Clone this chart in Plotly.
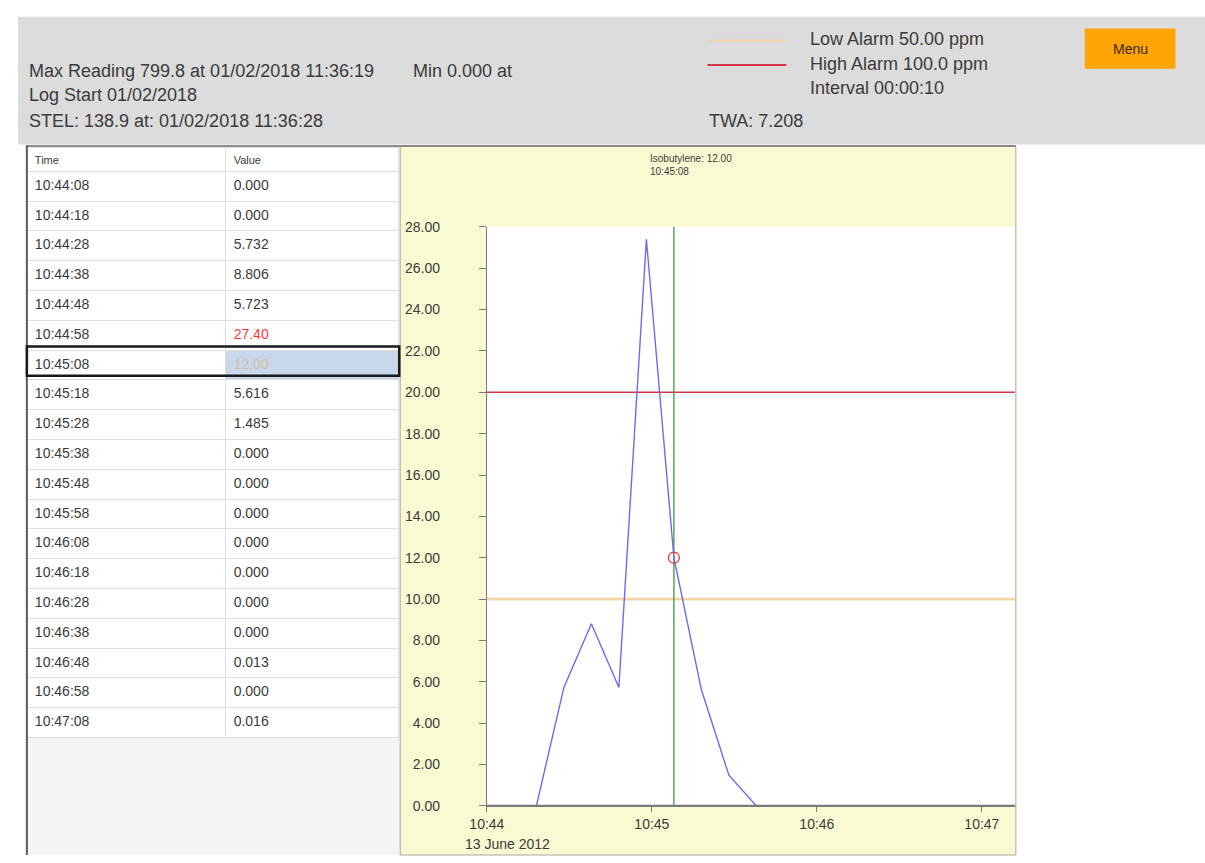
import plotly.graph_objects as go

W, H = 1205, 863

# ---------------- data ----------------
log_date = "2012-06-13"
date_label = "13 June 2012"
times = ["10:44:08", "10:44:18", "10:44:28", "10:44:38", "10:44:48", "10:44:58",
         "10:45:08", "10:45:18", "10:45:28", "10:45:38", "10:45:48", "10:45:58",
         "10:46:08", "10:46:18", "10:46:28", "10:46:38", "10:46:48", "10:46:58",
         "10:47:08"]
values = [0.000, 0.000, 5.732, 8.806, 5.723, 27.40, 12.00, 5.616, 1.485, 0.000,
          0.000, 0.000, 0.000, 0.000, 0.000, 0.000, 0.013, 0.000, 0.016]
value_labels = ["0.000", "0.000", "5.732", "8.806", "5.723", "27.40", "12.00", "5.616",
                "1.485", "0.000", "0.000", "0.000", "0.000", "0.000", "0.000", "0.000",
                "0.013", "0.000", "0.016"]
table_headers = ["Time", "Value"]
low_alarm_level = 10.0
high_alarm_level = 20.0
selected_index = 6
x_range = ["10:44:00", "10:47:12"]
x_tick_times = ["10:44:00", "10:45:00", "10:46:00", "10:47:00"]
x_tick_labels = ["10:44", "10:45", "10:46", "10:47"]
y_ticks = [0, 2, 4, 6, 8, 10, 12, 14, 16, 18, 20, 22, 24, 26, 28]
y_range = [0, 28]

header_left = [
    "Max Reading 799.8 at 01/02/2018 11:36:19",
    "Log Start 01/02/2018",
    "STEL: 138.9 at: 01/02/2018 11:36:28",
]
min_text = "Min 0.000 at"
legend_texts = ["Low Alarm 50.00 ppm", "High Alarm 100.0 ppm", "Interval 00:00:10"]
twa_text = "TWA: 7.208"
gas_name = "Isobutylene"
button_text = "Menu"

# ---------------- helpers ----------------
def X(p):
    return p / W

def Y(p):
    return 1 - p / H

def ts(t):
    return f"{log_date} {t}"

FONT = "Liberation Sans, Arial, sans-serif"
TXT = "#3a3a3a"
AXIS = "#7a7a7a"

BLUE = "#6b6bf0"
RED = "#d0354a"
LOW = "#f5d3a4"
GREEN = "#4aa04a"

# plot area pixel box
PX0, PX1 = 476, 1012
PY0, PY1 = 223, 813

sel_time = times[selected_index]
sel_val = values[selected_index]

fig = go.Figure()

# ---------------- table ----------------
n = len(times)
fill_col0 = ["white"] * n
fill_col1 = ["#c9d7ec" if i == selected_index else "white" for i in range(n)]
font_col0 = [TXT] * n
font_col1 = []
for i, v in enumerate(values):
    if i == selected_index:
        font_col1.append("#cfc29a")
    elif v >= high_alarm_level:
        font_col1.append("#ff3a3a")
    else:
        font_col1.append(TXT)

ROW_H = 29.8
HEAD_H = 24
fig.add_trace(go.Table(
    domain=dict(x=[X(9), X(387)], y=[0, Y(142)]),
    columnwidth=[202, 176],
    header=dict(values=table_headers, height=HEAD_H, align="left",
                fill_color="white", line=dict(color="#dedede", width=1),
                font=dict(family=FONT, size=11, color=TXT)),
    cells=dict(values=[times, value_labels], height=ROW_H, align="left",
               fill_color=[fill_col0, fill_col1],
               line=dict(color="#dedede", width=1),
               font=dict(family=FONT, size=14, color=[font_col0, font_col1])),
))

# ---------------- chart traces ----------------
xs = [ts(t) for t in times]
fig.add_trace(go.Scatter(x=xs, y=values, mode="lines",
                         line=dict(color=BLUE, width=1.4), hoverinfo="skip",
                         showlegend=False))
fig.add_trace(go.Scatter(x=[ts(sel_time)], y=[sel_val], mode="markers",
                         marker=dict(symbol="circle-open", size=11, color="#e04040",
                                     line=dict(width=1.3)),
                         hoverinfo="skip", showlegend=False))

shapes = []
# grey header
shapes.append(dict(type="rect", xref="paper", yref="paper", x0=0, x1=1,
                   y0=Y(139), y1=Y(9), fillcolor="#dcdcdc", line=dict(width=0),
                   layer="below"))
# table panel background
shapes.append(dict(type="rect", xref="paper", yref="paper", x0=X(8), x1=X(388),
                   y0=0, y1=Y(141), fillcolor="#f4f4f4", line=dict(width=0),
                   layer="below"))
# chart panel
shapes.append(dict(type="rect", xref="paper", yref="paper", x0=X(388), x1=X(1013),
                   y0=0, y1=Y(141), fillcolor="#fafad2",
                   line=dict(color="#a8a8a0", width=1), layer="below"))
# plot area white
shapes.append(dict(type="rect", xref="paper", yref="paper", x0=X(PX0), x1=X(PX1),
                   y0=Y(PY1), y1=Y(PY0), fillcolor="white", line=dict(width=0),
                   layer="below"))
# top border line of panels
shapes.append(dict(type="line", xref="paper", yref="paper", x0=X(8), x1=X(1013),
                   y0=Y(140.5), y1=Y(140.5), line=dict(color="#8c8c8c", width=2)))
# table left border
shapes.append(dict(type="line", xref="paper", yref="paper", x0=X(9), x1=X(9),
                   y0=0, y1=Y(140), line=dict(color="#5a5a5a", width=2)))
# alarm lines
shapes.append(dict(type="line", xref="paper", yref="y", x0=X(PX0), x1=X(PX1),
                   y0=low_alarm_level, y1=low_alarm_level,
                   line=dict(color=LOW, width=2.6), layer="below"))
shapes.append(dict(type="line", xref="paper", yref="y", x0=X(PX0), x1=X(PX1),
                   y0=high_alarm_level, y1=high_alarm_level,
                   line=dict(color=RED, width=1.4), layer="below"))
# cursor line
shapes.append(dict(type="line", xref="x", yref="y", x0=ts(sel_time), x1=ts(sel_time),
                   y0=y_range[0], y1=y_range[1], line=dict(color=GREEN, width=1.4),
                   layer="below"))
# x axis baseline drawn over the trace (hides the zero segments like the original)
shapes.append(dict(type="line", xref="paper", yref="y", x0=X(PX0), x1=X(PX1),
                   y0=0, y1=0, line=dict(color=AXIS, width=2.2), layer="above"))
# selected row box
sel_top = 142 + HEAD_H + selected_index * ROW_H
shapes.append(dict(type="rect", xref="paper", yref="paper", x0=X(9), x1=X(387),
                   y0=Y(sel_top + ROW_H), y1=Y(sel_top),
                   line=dict(color="#1a1a1a", width=2.5), fillcolor="rgba(0,0,0,0)"))
# legend swatches
shapes.append(dict(type="line", xref="paper", yref="paper", x0=X(700), x1=X(780),
                   y0=Y(33), y1=Y(33), line=dict(color=LOW, width=2)))
shapes.append(dict(type="line", xref="paper", yref="paper", x0=X(700), x1=X(780),
                   y0=Y(58), y1=Y(58), line=dict(color=RED, width=2)))
# menu button
shapes.append(dict(type="rect", xref="paper", yref="paper", x0=X(1083), x1=X(1175),
                   y0=Y(62), y1=Y(21), fillcolor="#ffa505", line=dict(width=0)))

ann = []
def txt(s, x, y, size=18, color=TXT, xanchor="left"):
    ann.append(dict(text=s, xref="paper", yref="paper", x=X(x), y=Y(y),
                    xanchor=xanchor, yanchor="middle", showarrow=False,
                    font=dict(family=FONT, size=size, color=color)))

txt(header_left[0], 9, 64)
txt(min_text, 399, 64)
txt(header_left[1], 9, 89)
txt(header_left[2], 9, 115)
txt(legend_texts[0], 802, 32)
txt(legend_texts[1], 802, 57)
txt(legend_texts[2], 802, 82)
txt(twa_text, 699, 115)
txt(button_text, 1129, 42, size=14, color="#3a2800", xanchor="center")

# cursor readout
ann.append(dict(text=f"{gas_name}: {sel_val:.2f}<br>{sel_time}", xref="paper", yref="paper",
                x=X(640), y=Y(146), xanchor="left", yanchor="top", align="left",
                showarrow=False, font=dict(family=FONT, size=10, color=TXT)))
# date under first tick
ann.append(dict(text=date_label, xref="x", yref="paper", x=ts(x_tick_times[0]),
                xanchor="left", xshift=-24, y=Y(852), yanchor="middle",
                showarrow=False, font=dict(family=FONT, size=14, color=TXT)))

fig.update_layout(
    width=W, height=H, margin=dict(l=0, r=0, t=0, b=0),
    paper_bgcolor="white", plot_bgcolor="white",
    shapes=shapes, annotations=ann, showlegend=False,
    xaxis=dict(domain=[X(PX0), X(PX1)], type="date",
               range=[ts(x_range[0]), ts(x_range[1])],
               tickvals=[ts(t) for t in x_tick_times], ticktext=x_tick_labels,
               showgrid=False, zeroline=False, showline=True, linecolor=AXIS,
               linewidth=1, ticks="outside", ticklen=5, tickcolor=AXIS,
               tickfont=dict(family=FONT, size=14, color=TXT), fixedrange=True),
    yaxis=dict(domain=[Y(PY1), Y(PY0)], range=y_range, tickvals=y_ticks,
               tickformat=".2f", showgrid=False, zeroline=False, showline=True,
               linecolor=AXIS, linewidth=1, ticks="outside", ticklen=7,
               tickcolor=AXIS, ticklabelstandoff=36,
               tickfont=dict(family=FONT, size=14, color=TXT), fixedrange=True),
)

fig.write_html("out.html", config={"displayModeBar": False},
               post_script="document.body.style.margin='0';document.body.style.overflow='hidden';")
